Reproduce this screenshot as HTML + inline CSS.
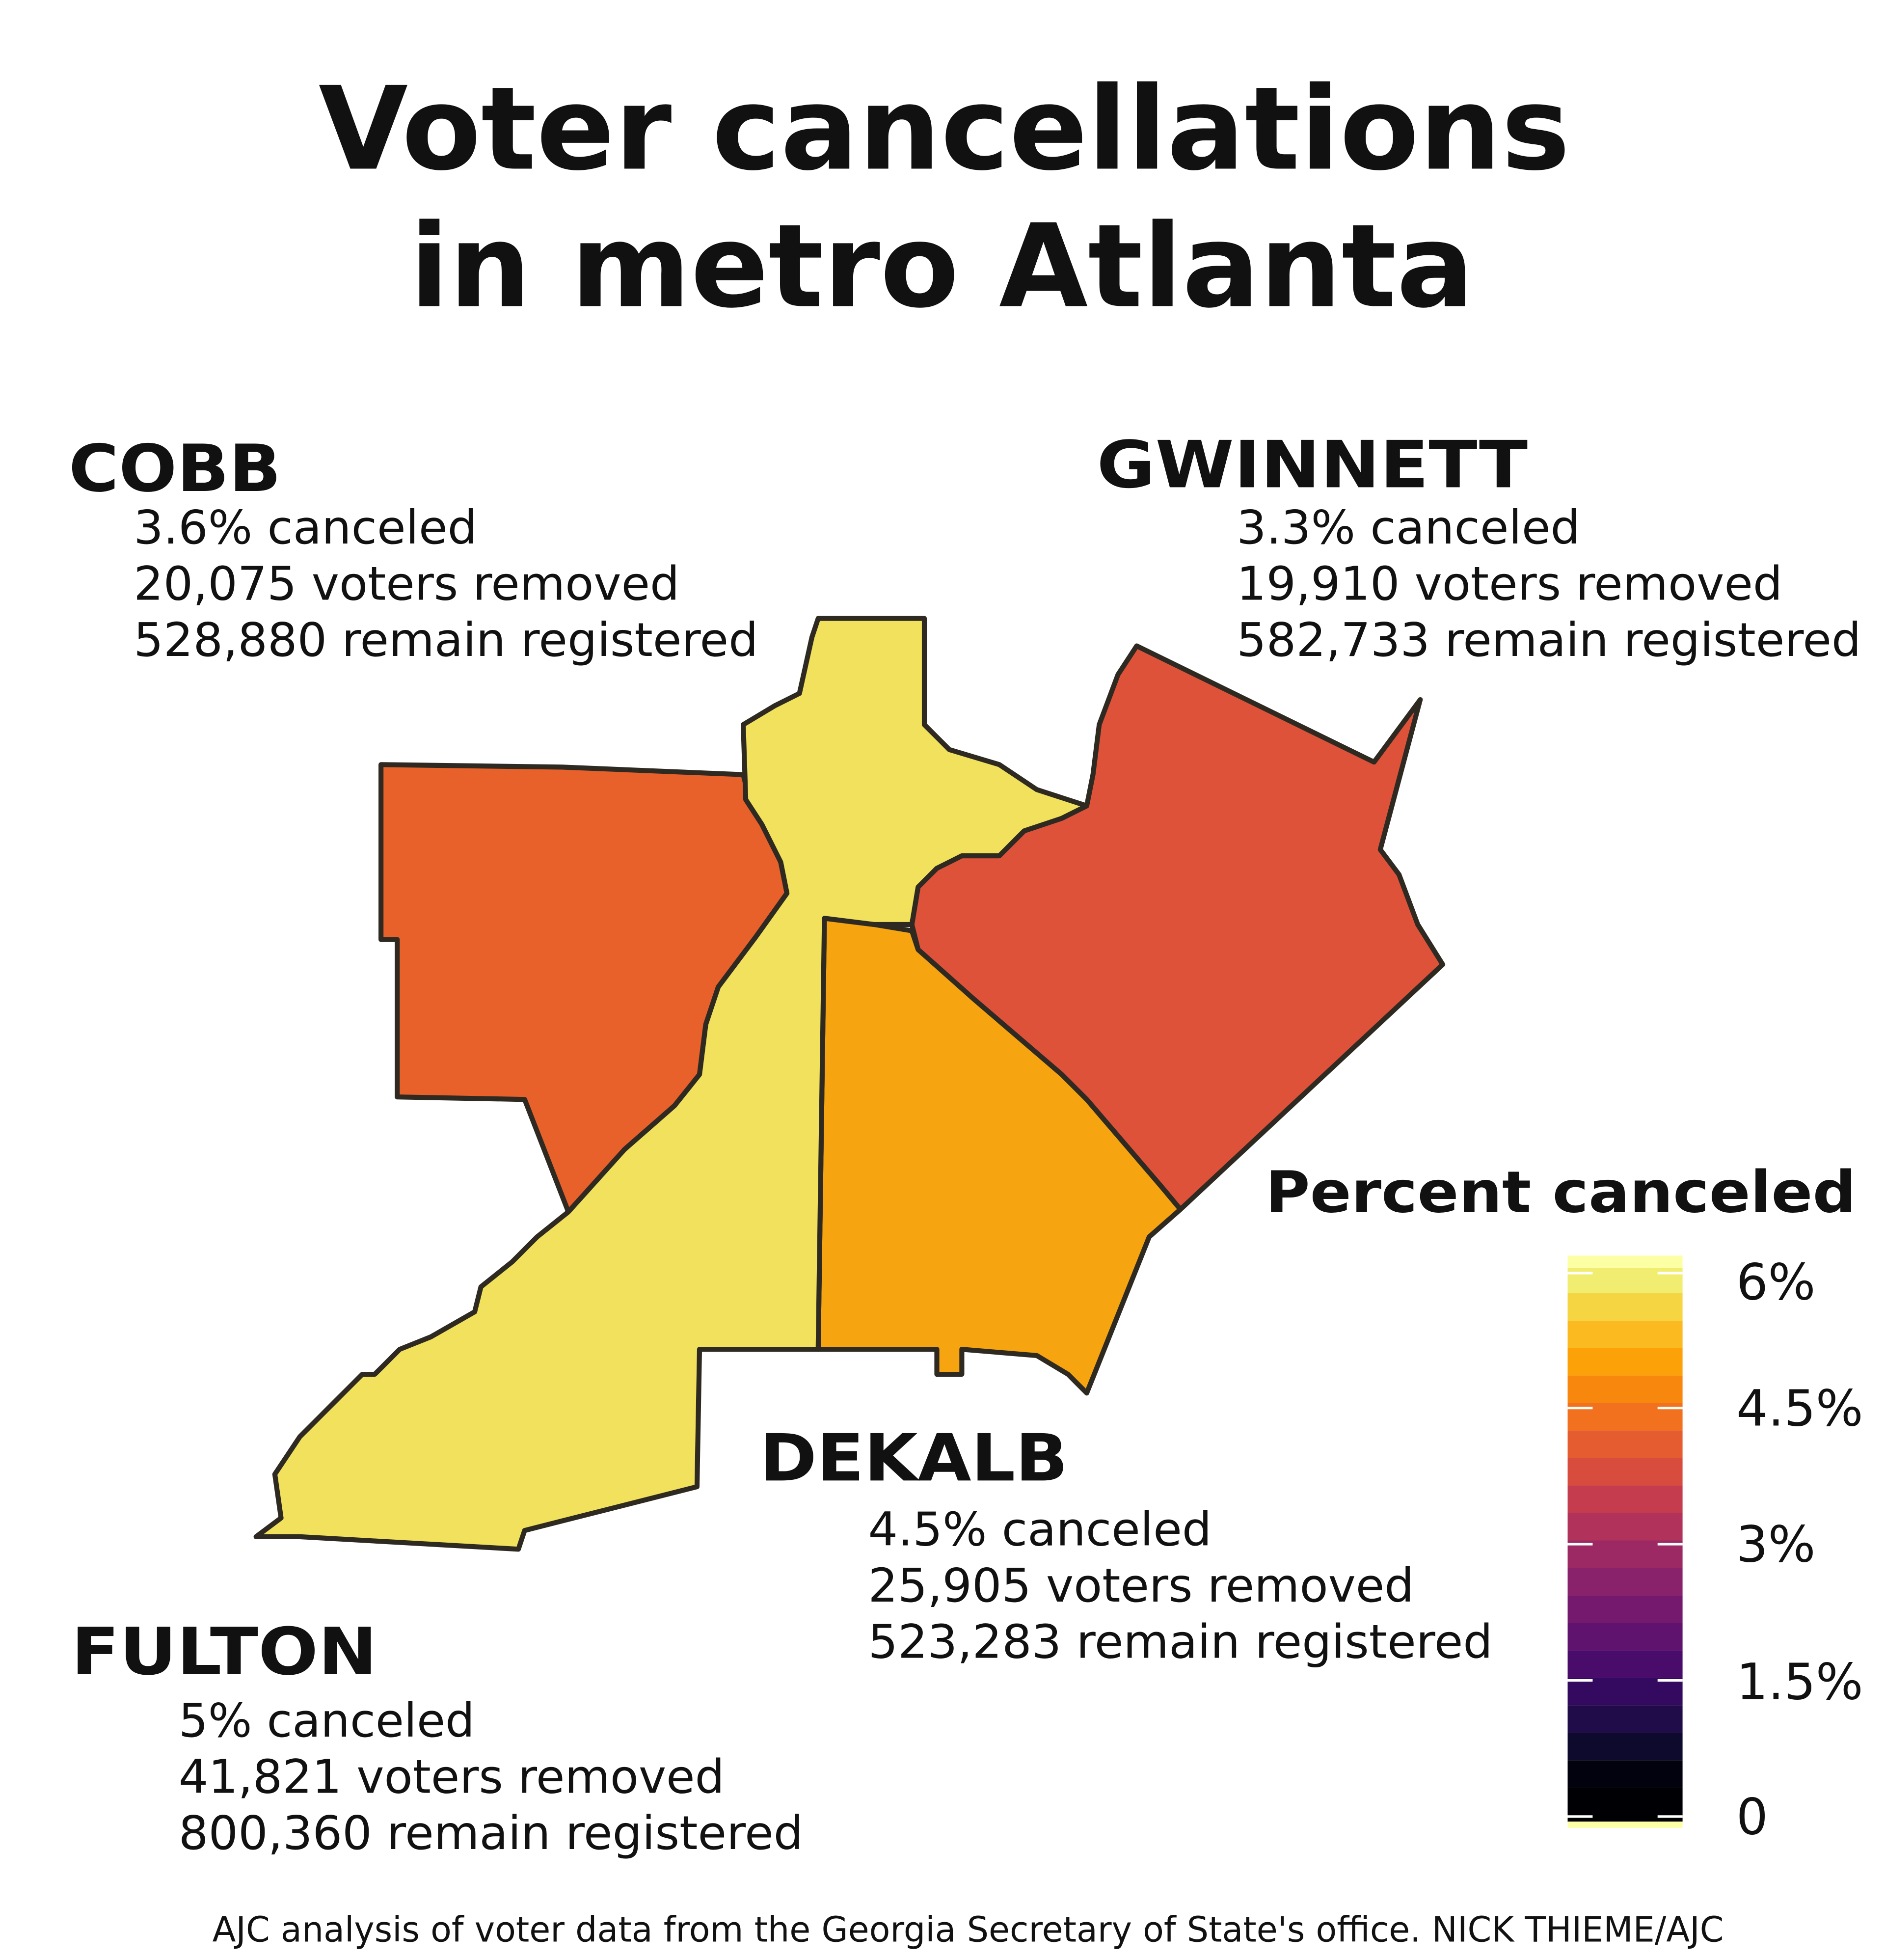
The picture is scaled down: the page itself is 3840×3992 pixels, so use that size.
<!DOCTYPE html>
<html><head><meta charset="utf-8"><style>
html,body{margin:0;padding:0;background:#fff}
svg{display:block}
text{font-family:"DejaVu Sans","Liberation Sans",sans-serif;fill:#111}
.b{font-weight:bold}
</style></head><body>
<svg width="3840" height="3992" viewBox="0 0 1500 1559.4" xmlns="http://www.w3.org/2000/svg">
<rect width="1500" height="1560" fill="#fff"/>
<g transform="scale(0.994)">
<text class="b" x="255" y="135" font-size="92" textLength="1002" lengthAdjust="spacingAndGlyphs">Voter cancellations</text>
<text class="b" x="328" y="245" font-size="92" textLength="852" lengthAdjust="spacingAndGlyphs">in metro Atlanta</text>

<g stroke="#2e2a22" stroke-width="4" stroke-linejoin="round">
<polygon fill="#e8612b" points="305,612 450,614 595,620 600,640 610,660 625,690 630,715 605,750 575,790 565,820 560,860 540,885 500,920 455,970 420,880 318,878 318,752 305,752"/>
<polygon fill="#f6a511" points="660,735 700,740 730,745 735,760 780,800 850,860 870,880 930,950 945,968 920,990 870,1115 855,1100 830,1085 770,1080 770,1100 750,1100 750,1080 655,1080"/>
<polygon fill="#df523a" points="910,517 1100,610 1137,560 1105,680 1120,700 1135,740 1155,772 945,968 930,950 870,880 850,860 780,800 735,760 730,740 735,710 750,695 770,685 800,685 820,665 850,655 870,645 875,620 880,580 895,540"/>
<polygon fill="#f1e15c" points="655,495 740,495 740,580 760,600 800,612 830,632 870,645 850,655 820,665 800,685 770,685 750,695 735,710 730,740 700,740 660,735 655,1080 560,1080 558,1190 420,1225 415,1240 240,1230 205,1230 225,1215 220,1180 240,1150 260,1130 290,1100 300,1100 320,1080 345,1070 380,1050 385,1030 410,1010 430,990 455,970 500,920 540,885 560,860 565,820 575,790 605,750 630,715 625,690 610,660 597,640 595,580 620,565 640,555 650,510"/>
</g>

<text class="b" x="55" y="393" font-size="52" textLength="170" lengthAdjust="spacingAndGlyphs">COBB</text>
<text x="107" y="435" font-size="37" textLength="275" lengthAdjust="spacingAndGlyphs">3.6% canceled</text>
<text x="107" y="480" font-size="37" textLength="437" lengthAdjust="spacingAndGlyphs">20,075 voters removed</text>
<text x="107" y="525" font-size="37" textLength="500" lengthAdjust="spacingAndGlyphs">528,880 remain registered</text>

<text class="b" x="878" y="390" font-size="52" textLength="345" lengthAdjust="spacingAndGlyphs">GWINNETT</text>
<text x="990" y="435" font-size="37" textLength="275" lengthAdjust="spacingAndGlyphs">3.3% canceled</text>
<text x="990" y="480" font-size="37" textLength="437" lengthAdjust="spacingAndGlyphs">19,910 voters removed</text>
<text x="990" y="525" font-size="37" textLength="500" lengthAdjust="spacingAndGlyphs">582,733 remain registered</text>

<text class="b" x="608" y="1185" font-size="52" textLength="247" lengthAdjust="spacingAndGlyphs">DEKALB</text>
<text x="695" y="1237" font-size="37" textLength="275" lengthAdjust="spacingAndGlyphs">4.5% canceled</text>
<text x="695" y="1282" font-size="37" textLength="437" lengthAdjust="spacingAndGlyphs">25,905 voters removed</text>
<text x="695" y="1327" font-size="37" textLength="500" lengthAdjust="spacingAndGlyphs">523,283 remain registered</text>

<text class="b" x="57" y="1340" font-size="52" textLength="245" lengthAdjust="spacingAndGlyphs">FULTON</text>
<text x="143" y="1390" font-size="37" textLength="237" lengthAdjust="spacingAndGlyphs">5% canceled</text>
<text x="143" y="1435" font-size="37" textLength="437" lengthAdjust="spacingAndGlyphs">41,821 voters removed</text>
<text x="143" y="1480" font-size="37" textLength="500" lengthAdjust="spacingAndGlyphs">800,360 remain registered</text>

<text class="b" x="1013" y="970" font-size="46" textLength="473" lengthAdjust="spacingAndGlyphs">Percent canceled</text>

<g>
<rect x="1255" y="1005" width="92" height="10" fill="#fcffa4"/>
<rect x="1255" y="1015" width="92" height="20" fill="#f1ed71"/>
<rect x="1255" y="1035" width="92" height="22" fill="#f6d543"/>
<rect x="1255" y="1057" width="92" height="22" fill="#fbba1f"/>
<rect x="1255" y="1079" width="92" height="22" fill="#fca108"/>
<rect x="1255" y="1101" width="92" height="22" fill="#f8870e"/>
<rect x="1255" y="1123" width="92" height="22" fill="#f1711f"/>
<rect x="1255" y="1145" width="92" height="22" fill="#e55c30"/>
<rect x="1255" y="1167" width="92" height="22" fill="#d84c3e"/>
<rect x="1255" y="1189" width="92" height="22" fill="#c43c4e"/>
<rect x="1255" y="1211" width="92" height="22" fill="#b1325a"/>
<rect x="1255" y="1233" width="92" height="22" fill="#9c2964"/>
<rect x="1255" y="1255" width="92" height="22" fill="#89226a"/>
<rect x="1255" y="1277" width="92" height="22" fill="#74196e"/>
<rect x="1255" y="1299" width="92" height="22" fill="#5f136e"/>
<rect x="1255" y="1321" width="92" height="22" fill="#4a0c6b"/>
<rect x="1255" y="1343" width="92" height="22" fill="#330a5f"/>
<rect x="1255" y="1365" width="92" height="22" fill="#1f0c48"/>
<rect x="1255" y="1387" width="92" height="22" fill="#0e0a2d"/>
<rect x="1255" y="1409" width="92" height="22" fill="#02010e"/>
<rect x="1255" y="1431" width="92" height="27" fill="#000004"/>
<rect x="1255" y="1458" width="92" height="5" fill="#fcffa4"/>
<g stroke="#fff" stroke-width="2">
<line x1="1255" y1="1019" x2="1275" y2="1019"/><line x1="1327" y1="1019" x2="1347" y2="1019"/>
<line x1="1255" y1="1127" x2="1275" y2="1127"/><line x1="1327" y1="1127" x2="1347" y2="1127"/>
<line x1="1255" y1="1236" x2="1275" y2="1236"/><line x1="1327" y1="1236" x2="1347" y2="1236"/>
<line x1="1255" y1="1345" x2="1275" y2="1345"/><line x1="1327" y1="1345" x2="1347" y2="1345"/>
<line x1="1255" y1="1454" x2="1275" y2="1454"/><line x1="1327" y1="1454" x2="1347" y2="1454"/>
</g>
</g>
<text x="1390" y="1040" font-size="40" fill="#222">6%</text>
<text x="1390" y="1141" font-size="40" fill="#222">4.5%</text>
<text x="1390" y="1250" font-size="40" fill="#222">3%</text>
<text x="1390" y="1360" font-size="40" fill="#222">1.5%</text>
<text x="1390" y="1468" font-size="40" fill="#222">0</text>

<text x="170" y="1554" font-size="28" fill="#333" textLength="1210" lengthAdjust="spacingAndGlyphs">AJC analysis of voter data from the Georgia Secretary of State's office. NICK THIEME/AJC</text>
</g>
</svg>
</body></html>
